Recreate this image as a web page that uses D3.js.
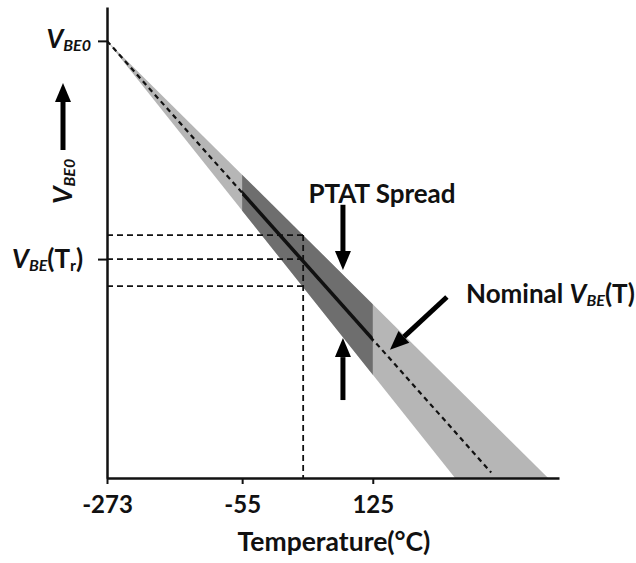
<!DOCTYPE html>
<html>
<head>
<meta charset="utf-8">
<script src="https://cdn.jsdelivr.net/npm/d3@7"></script>
<style>
  body { margin: 0; background: #fff; }
  text { font-family: Lato, "Open Sans", sans-serif; font-weight: bold; fill: #111; }
</style>
</head>
<body>
<svg id="chart"></svg>
<script>
// schematic temperature axis: tick positions along the axis (0..100 units) and their labels
const tickPos = [0, 29.9, 58.8];
const tickLabels = ["-273", "-55", "125"];
const trPos = 43.4;                       // reference temperature Tr
const vbe0 = 1.2;
const vbeTr = 0.601;
const trLevels = [0.667, 0.601, 0.527];   // upper spread, nominal, lower spread at Tr
const nominal = [{t: 0, v: 1.2}, {t: 85, v: 0.015}];
const spread = [{t: 0, v: 1.2}, {t: 97.6, v: 0}, {t: 77, v: 0}];
const annotArrows = [
  {from: {t: 52.2, v: 0.75}, to: {t: 52.2, v: 0.571}},
  {from: {t: 52.2, v: 0.214}, to: {t: 52.2, v: 0.384}},
  {from: {t: 75.2, v: 0.497}, to: {t: 62.6, v: 0.352}}
];

let w = 636;
let h = 563;

let svg = d3.select('#chart').attr('width', w).attr('height', h);

let x = d3.scaleLinear().domain([0, 100]).range([107, 559]);
let y = d3.scaleLinear().domain([0, 1.293]).range([478, 7]);

let line = d3.line().x(d => x(d.t)).y(d => y(d.v));

// region -55..125 used for the dark band and the solid nominal segment
svg.append('clipPath').attr('id', 'range')
  .append('rect')
  .attr('x', x(tickPos[1]))
  .attr('y', 0)
  .attr('width', x(tickPos[2]) - x(tickPos[1]))
  .attr('height', h);

svg.append('path')
  .attr('d', line(spread) + 'Z')
  .attr('fill', '#b6b6b6');

svg.append('path')
  .attr('d', line(spread) + 'Z')
  .attr('fill', '#6e6e6e')
  .attr('clip-path', 'url(#range)');

svg.append('path')
  .attr('d', line(nominal))
  .attr('stroke', '#111')
  .attr('stroke-width', 2.2)
  .attr('stroke-dasharray', '5,4')
  .attr('fill', 'none');

svg.append('path')
  .attr('d', line(nominal))
  .attr('stroke', '#111')
  .attr('stroke-width', 3.5)
  .attr('fill', 'none')
  .attr('clip-path', 'url(#range)');

// Tr guide lines
svg.selectAll('.tr-h')
  .data(trLevels)
  .enter()
  .append('line')
  .attr('x1', x(0))
  .attr('x2', x(trPos))
  .attr('y1', d => y(d))
  .attr('y2', d => y(d))
  .attr('stroke', '#111')
  .attr('stroke-width', 1.8)
  .attr('stroke-dasharray', '6,4');

svg.append('line')
  .attr('x1', x(trPos))
  .attr('x2', x(trPos))
  .attr('y1', y(d3.max(trLevels)))
  .attr('y2', y(0))
  .attr('stroke', '#111')
  .attr('stroke-width', 1.8)
  .attr('stroke-dasharray', '6,4');

// axes
let xAxis = d3.axisBottom(x)
  .tickValues(tickPos)
  .tickFormat((d, i) => tickLabels[i])
  .tickSize(6)
  .tickSizeOuter(0)
  .tickPadding(12);

let gx = svg.append('g')
  .attr('transform', 'translate(0, ' + y(0) + ')')
  .call(xAxis);
gx.select('.domain').attr('stroke', '#111').attr('stroke-width', 2.5);
gx.selectAll('.tick line').attr('stroke', '#111').attr('stroke-width', 2);
gx.selectAll('.tick text')
  .attr('font-size', 24)
  .attr('fill', '#111')
  .style('font-family', 'Lato, sans-serif');

let yAxis = d3.axisLeft(y)
  .tickValues([vbe0, vbeTr])
  .tickFormat('')
  .tickSize(9)
  .tickSizeOuter(0);

let gy = svg.append('g')
  .attr('transform', 'translate(' + x(0) + ', 0)')
  .call(yAxis);
gy.select('.domain').attr('stroke', '#111').attr('stroke-width', 2.5);
gy.selectAll('.tick line').attr('stroke', '#111').attr('stroke-width', 2);

// arrows
const drawArrow = (x1, y1, x2, y2) => {
  let a = Math.atan2(y2 - y1, x2 - x1);
  let hl = 19, hw = 8;
  let bx = x2 - hl * Math.cos(a), by = y2 - hl * Math.sin(a);
  svg.append('line')
    .attr('x1', x1).attr('y1', y1)
    .attr('x2', bx).attr('y2', by)
    .attr('stroke', '#000')
    .attr('stroke-width', 5);
  let px = -Math.sin(a) * hw, py = Math.cos(a) * hw;
  svg.append('polygon')
    .attr('points', [[x2, y2], [bx + px, by + py], [bx - px, by - py]].map(p => p.join(',')).join(' '))
    .attr('fill', '#000');
};

annotArrows.forEach(d => drawArrow(x(d.from.t), y(d.from.v), x(d.to.t), y(d.to.v)));
drawArrow(63, 150, 63, 83);

// labels
let topLabel = svg.append('text').attr('x', 91).attr('y', 48).attr('text-anchor', 'end');
topLabel.append('tspan').attr('font-size', 26).attr('font-style', 'italic').text('V');
topLabel.append('tspan').attr('font-size', 16).attr('font-style', 'italic').attr('dy', 3).text('BE0');

let sideLabel = svg.append('text')
  .attr('transform', 'translate(72, 204) rotate(-90)');
sideLabel.append('tspan').attr('font-size', 27).attr('font-style', 'italic').text('V');
sideLabel.append('tspan').attr('font-size', 16).attr('font-style', 'italic').attr('dy', 3).text('BE0');

let trLabel = svg.append('text').attr('x', 12).attr('y', 268);
trLabel.append('tspan').attr('font-size', 26).attr('font-style', 'italic').text('V');
trLabel.append('tspan').attr('font-size', 16).attr('font-style', 'italic').attr('dy', 3).text('BE');
trLabel.append('tspan').attr('font-size', 26).attr('dy', -3).text('(T');
trLabel.append('tspan').attr('font-size', 16).attr('dy', 3).text('r');
trLabel.append('tspan').attr('font-size', 26).attr('dy', -3).text(')');

svg.append('text')
  .attr('x', 382).attr('y', 203)
  .attr('text-anchor', 'middle')
  .attr('font-size', 26)
  .text('PTAT Spread');

let nomLabel = svg.append('text').attr('x', 466).attr('y', 303);
nomLabel.append('tspan').attr('font-size', 26).text('Nominal ');
nomLabel.append('tspan').attr('font-size', 26).attr('font-style', 'italic').text('V');
nomLabel.append('tspan').attr('font-size', 16).attr('font-style', 'italic').attr('dy', 3).text('BE');
nomLabel.append('tspan').attr('font-size', 26).attr('dy', -3).text('(T)');

svg.append('text')
  .attr('x', 334).attr('y', 551)
  .attr('text-anchor', 'middle')
  .attr('font-size', 26.5)
  .text('Temperature(°C)');
</script>
</body>
</html>
